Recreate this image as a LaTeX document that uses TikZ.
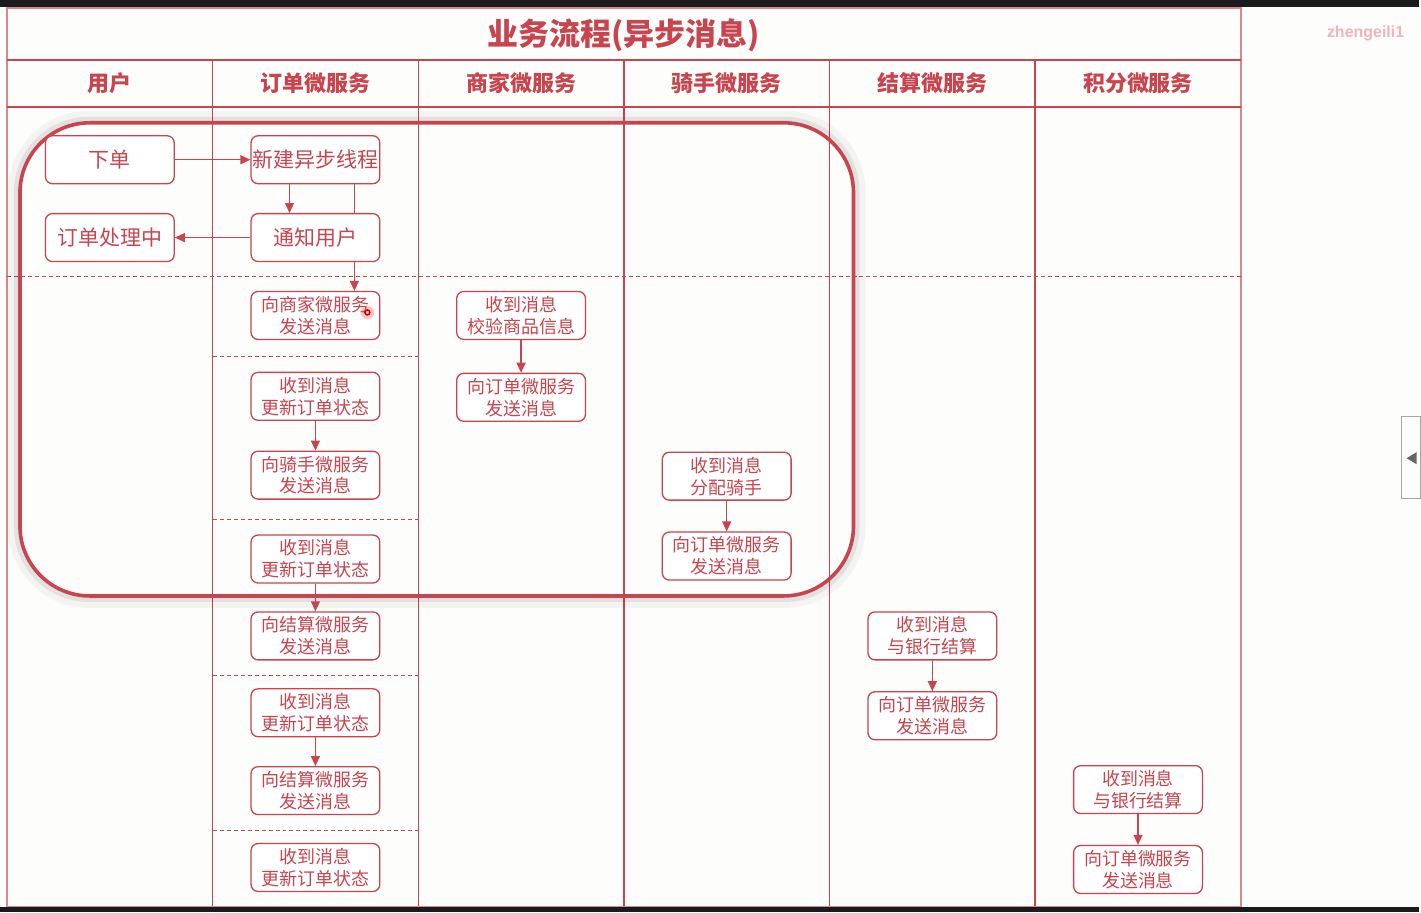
\documentclass[tikz,border=0pt]{standalone}
\usepackage{fontspec}
\setmainfont{Noto Sans CJK SC}
\newfontfamily\markfont{Liberation Sans}
\usepackage{tikz}
\usetikzlibrary{arrows.meta,positioning,calc}

\definecolor{flowred}{HTML}{C8444E}
\definecolor{framepink}{HTML}{D9868C}
\definecolor{paper}{HTML}{FDFDFB}
\definecolor{screenblack}{HTML}{1B1B1B}
\definecolor{markpink}{HTML}{F0B4B9}

\tikzset{
  box/.style={draw=flowred, line width=1.3pt, rounded corners=7pt, fill=white,
    minimum width=129pt, minimum height=48pt, inner sep=0pt, align=center,
    text=flowred, font=\fontsize{18}{22}\selectfont},
  onebox/.style={box, font=\fontsize{21}{24}\selectfont},
  lanehead/.style={text=flowred, font=\bfseries\fontsize{22}{26}\selectfont},
  flow/.style={draw=flowred, line width=1.3pt, -{Triangle[length=10pt,width=9pt]}},
  link/.style={draw=flowred, line width=1.3pt},
  lane/.style={draw=flowred, line width=1.4pt},
  sep/.style={draw=flowred, line width=1.2pt, dash pattern=on 4pt off 3pt},
}

\begin{document}
\begin{tikzpicture}[x=1pt,y=-1pt]
  \fill[screenblack] (0,0) rectangle (1421,914); % 画面の黒い縁
  \fill[paper] (0,7) rectangle (1421,909); % 用紙
  \draw[framepink, line width=1.4pt] (7,8) rectangle (1243,908); % 外枠
  \draw[lane] (7,60) -- (1243,60); % 标题下线
  \draw[lane] (7,107) -- (1243,107); % 泳道标题下线
  \draw[lane] (213,60) -- (213,908); % 用户 | 订单
  \draw[lane] (419,60) -- (419,908); % 订单 | 商家
  \draw[lane] (625,60) -- (625,908); % 商家 | 骑手
  \draw[lane] (831,60) -- (831,908); % 骑手 | 结算
  \draw[lane] (1037,60) -- (1037,908); % 结算 | 积分
  \draw[sep] (7,277) -- (1243,277); % 横断する点線
  \draw[sep] (213,357) -- (419,357); % 订单泳道の点線
  \draw[sep] (213,520) -- (419,520);
  \draw[sep] (213,677) -- (419,677);
  \draw[sep] (213,832) -- (419,832);

  \node[text=flowred, font=\bfseries\fontsize{31}{36}\selectfont] (title) at (625,35) {业务流程(异步消息)}; % 标题
  \node[lanehead] (hUser) at (110,83) {用户};
  \node[lanehead] (hOrder) at (316,83) {订单微服务};
  \node[lanehead] (hShop) at (522,83) {商家微服务};
  \node[lanehead] (hRider) at (728,83) {骑手微服务};
  \node[lanehead] (hSettle) at (934,83) {结算微服务};
  \node[lanehead] (hPoint) at (1140,83) {积分微服务};
  \node[text=markpink, font=\markfont\bfseries\fontsize{16}{18}\selectfont] (mark) at (1368,33) {zhengeili1}; % 水印

  \draw[black, opacity=0.04, line width=12pt, rounded corners=75pt] (14,117) rectangle (861,603); % 大枠の影（外側）
  \draw[black, opacity=0.07, line width=6pt, rounded corners=72pt] (17,120) rectangle (858,600); % 大枠の影
  \draw[flowred, line width=3.6pt, rounded corners=70pt] (20,123) rectangle (855,597); % 同步部分の大枠

  \node[onebox] (placeOrder) at (110,160) {下单};
  \node[onebox] (pending) at (110,238) {订单处理中};
  \node[onebox] (newThread) at (316,160) {新建异步线程};
  \node[onebox] (notify) at (316,238) {通知用户};
  \node[box] (toShop) at (316,316) {向商家微服务\\发送消息};
  \node[box] (recvA) at (316,397) {收到消息\\更新订单状态};
  \node[box] (toRider) at (316,476) {向骑手微服务\\发送消息};
  \node[box] (recvB) at (316,560) {收到消息\\更新订单状态};
  \node[box] (toSettleA) at (316,637) {向结算微服务\\发送消息};
  \node[box] (recvC) at (316,714) {收到消息\\更新订单状态};
  \node[box] (toSettleB) at (316,792) {向结算微服务\\发送消息};
  \node[box] (recvD) at (316,869) {收到消息\\更新订单状态};
  \node[box] (shopRecv) at (522,316) {收到消息\\校验商品信息};
  \node[box] (shopSend) at (522,398) {向订单微服务\\发送消息};
  \node[box] (riderRecv) at (728,477) {收到消息\\分配骑手};
  \node[box] (riderSend) at (728,557) {向订单微服务\\发送消息};
  \node[box] (settleRecv) at (934,637) {收到消息\\与银行结算};
  \node[box] (settleSend) at (934,717) {向订单微服务\\发送消息};
  \node[box] (pointRecv) at (1140,791) {收到消息\\与银行结算};
  \node[box] (pointSend) at (1140,871) {向订单微服务\\发送消息};

  \draw[flow] (placeOrder) -- (newThread);
  \draw[flow] ([xshift=-26pt]newThread.south) -- ([xshift=-26pt]notify.north);
  \draw[link] ([xshift=39pt]newThread.south) -- ([xshift=39pt]notify.north);
  \draw[flow] ([xshift=39pt]notify.south) -- ([xshift=39pt]toShop.north);
  \draw[flow] (notify) -- (pending);
  \draw[flow] (shopRecv) -- (shopSend);
  \draw[flow] (recvA) -- (toRider);
  \draw[flow] (riderRecv) -- (riderSend);
  \draw[flow] (recvB) -- (toSettleA);
  \draw[flow] (recvC) -- (toSettleB);
  \draw[flow] (settleRecv) -- (settleSend);
  \draw[flow] (pointRecv) -- (pointSend);

  \fill[red!70, opacity=0.3] (368,313) circle (7pt); % 鼠标指针
  \draw[red!80!black, line width=1.5pt] (368,313) circle (2.5pt);
  \draw[gray!70, line width=1pt, fill=paper] (1404,417) rectangle (1423,499); % 画面右の切替タブ
  \fill[gray!80!black] (1409,459) -- (1419,453) -- (1419,465) -- cycle;
\end{tikzpicture}
\end{document}
